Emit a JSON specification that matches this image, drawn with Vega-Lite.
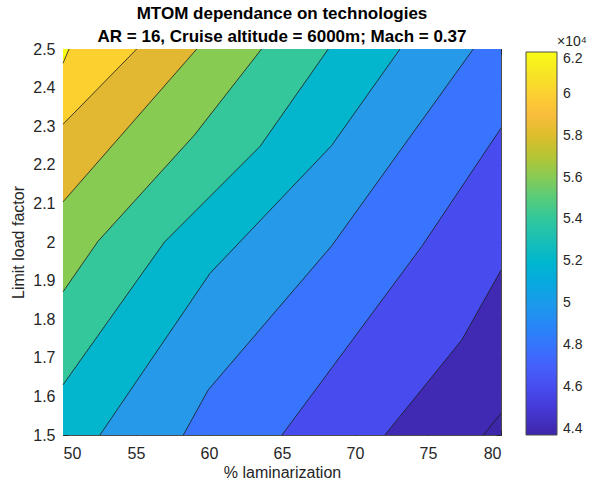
{
  "$schema": "https://vega.github.io/schema/vega-lite/v6.json",
  "width": 438,
  "height": 386,
  "autosize": {"type": "none"},
  "padding": {"left": 63, "top": 49, "right": 99, "bottom": 50},
  "background": "white",
  "config": {
    "font": "Liberation Sans",
    "view": {"stroke": "#4d4d4d", "strokeWidth": 1},
    "axis": {
      "grid": false,
      "domain": false,
      "tickColor": "#262626",
      "tickSize": -5,
      "labelColor": "#262626",
      "labelFontSize": 16,
      "titleFontSize": 16,
      "titleFontWeight": "normal",
      "titleColor": "#262626",
      "labelFont": "Liberation Sans",
      "titleFont": "Liberation Sans"
    }
  },
  "title": {
    "text": ["MTOM dependance on technologies", "AR = 16, Cruise altitude = 6000m; Mach = 0.37"],
    "frame": "group",
    "fontSize": 17,
    "fontWeight": "bold",
    "color": "#000000",
    "anchor": "middle",
    "offset": -11,
    "lineHeight": 23,
    "font": "Liberation Sans"
  },
  "datasets": {
    "bands": [
      {"level": "base", "x": 50, "y": 1.5}, {"level": "base", "x": 80, "y": 1.5},
      {"level": "4.4", "x": 50, "y": 1.5}, {"level": "4.4", "x": 78.79, "y": 1.5}, {"level": "4.4", "x": 80, "y": 1.556},
      {"level": "4.6", "x": 50, "y": 1.5}, {"level": "4.6", "x": 72.05, "y": 1.5}, {"level": "4.6", "x": 77.31, "y": 1.746}, {"level": "4.6", "x": 80, "y": 1.927},
      {"level": "4.8", "x": 50, "y": 1.5}, {"level": "4.8", "x": 65, "y": 1.5}, {"level": "4.8", "x": 74.6, "y": 1.99}, {"level": "4.8", "x": 80, "y": 2.295},
      {"level": "5.0", "x": 50, "y": 1.5}, {"level": "5.0", "x": 58.24, "y": 1.5}, {"level": "5.0", "x": 59.95, "y": 1.617}, {"level": "5.0", "x": 68.4, "y": 1.99}, {"level": "5.0", "x": 78.1, "y": 2.5},
      {"level": "5.2", "x": 50, "y": 1.5}, {"level": "5.2", "x": 52.53, "y": 1.5}, {"level": "5.2", "x": 60.07, "y": 1.919}, {"level": "5.2", "x": 68.4, "y": 2.25}, {"level": "5.2", "x": 73.08, "y": 2.5},
      {"level": "5.4", "x": 50, "y": 1.63}, {"level": "5.4", "x": 56.95, "y": 2.0}, {"level": "5.4", "x": 63.5, "y": 2.248}, {"level": "5.4", "x": 68.17, "y": 2.5},
      {"level": "5.6", "x": 50, "y": 1.871}, {"level": "5.6", "x": 52.4, "y": 2.002}, {"level": "5.6", "x": 59.0, "y": 2.277}, {"level": "5.6", "x": 63.6, "y": 2.5},
      {"level": "5.8", "x": 50, "y": 2.104}, {"level": "5.8", "x": 59.16, "y": 2.5},
      {"level": "6.0", "x": 50, "y": 2.305}, {"level": "6.0", "x": 55.05, "y": 2.5},
      {"level": "6.2", "x": 50, "y": 2.463}, {"level": "6.2", "x": 50.41, "y": 2.5}
    ],
    "lines": [
      {"level": "4.4", "x": 78.79, "y": 1.5}, {"level": "4.4", "x": 80, "y": 1.556},
      {"level": "4.6", "x": 72.05, "y": 1.5}, {"level": "4.6", "x": 77.31, "y": 1.746}, {"level": "4.6", "x": 80, "y": 1.927},
      {"level": "4.8", "x": 65, "y": 1.5}, {"level": "4.8", "x": 74.6, "y": 1.99}, {"level": "4.8", "x": 80, "y": 2.295},
      {"level": "5.0", "x": 58.24, "y": 1.5}, {"level": "5.0", "x": 59.95, "y": 1.617}, {"level": "5.0", "x": 68.4, "y": 1.99}, {"level": "5.0", "x": 78.1, "y": 2.5},
      {"level": "5.2", "x": 52.53, "y": 1.5}, {"level": "5.2", "x": 60.07, "y": 1.919}, {"level": "5.2", "x": 68.4, "y": 2.25}, {"level": "5.2", "x": 73.08, "y": 2.5},
      {"level": "5.4", "x": 50, "y": 1.63}, {"level": "5.4", "x": 56.95, "y": 2.0}, {"level": "5.4", "x": 63.5, "y": 2.248}, {"level": "5.4", "x": 68.17, "y": 2.5},
      {"level": "5.6", "x": 50, "y": 1.871}, {"level": "5.6", "x": 52.4, "y": 2.002}, {"level": "5.6", "x": 59.0, "y": 2.277}, {"level": "5.6", "x": 63.6, "y": 2.5},
      {"level": "5.8", "x": 50, "y": 2.104}, {"level": "5.8", "x": 59.16, "y": 2.5},
      {"level": "6.0", "x": 50, "y": 2.305}, {"level": "6.0", "x": 55.05, "y": 2.5},
      {"level": "6.2", "x": 50, "y": 2.463}, {"level": "6.2", "x": 50.41, "y": 2.5}
    ],
    "cbar": [{"v": 43700}, {"v": 62000}]
  },
  "layer": [
    {
      "data": {"name": "bands"},
      "mark": {"type": "area", "interpolate": "linear", "opacity": 1},
      "encoding": {
        "x": {"field": "x", "type": "quantitative", "scale": {"domain": [50, 80], "nice": false, "zero": false},
              "axis": {"values": [50, 55, 60, 65, 70, 75, 80], "title": "% laminarization", "labelPadding": 15, "titlePadding": 3}},
        "y": {"field": "y", "type": "quantitative", "stack": null, "scale": {"domain": [1.5, 2.5], "nice": false, "zero": false},
              "axis": {"values": [1.5, 1.6, 1.7, 1.8, 1.9, 2.0, 2.1, 2.2, 2.3, 2.4, 2.5], "format": "~g", "title": "Limit load factor", "labelPadding": 13, "titlePadding": 6}},
        "y2": {"datum": 2.5},
        "fill": {"field": "level", "type": "nominal",
                 "scale": {"domain": ["base", "4.4", "4.6", "4.8", "5.0", "5.2", "5.4", "5.6", "5.8", "6.0", "6.2"],
                           "range": ["#3e26a8", "#402ab4", "#484cef", "#3974ff", "#2699e9", "#04b6cd", "#34c79b", "#88cb52", "#e2b832", "#fcd12f", "#f9fb15"]},
                 "legend": null}
      }
    },
    {
      "data": {"name": "lines"},
      "mark": {"type": "line", "color": "#1a1a1a", "strokeWidth": 0.8},
      "encoding": {
        "x": {"field": "x", "type": "quantitative",
              "axis": {"orient": "top", "values": [50, 55, 60, 65, 70, 75, 80], "labels": false, "title": null}},
        "y": {"field": "y", "type": "quantitative",
              "axis": {"orient": "right", "values": [1.5, 1.6, 1.7, 1.8, 1.9, 2.0, 2.1, 2.2, 2.3, 2.4, 2.5], "labels": false, "title": null}},
        "detail": {"field": "level", "type": "nominal"}
      }
    },
    {
      "data": {"name": "cbar"},
      "mark": {"type": "point", "opacity": 0},
      "encoding": {
        "color": {"field": "v", "type": "quantitative",
          "scale": {
            "domain": [43700, 44862, 46024, 47186, 48348, 49510, 50671, 51833, 52995, 54157, 55319, 56481, 57643, 58805, 59967, 61129, 62000],
            "range": ["#3e26a8", "#4537d5", "#484df0", "#4563fd", "#327cfc", "#2b91ef", "#20a5e3", "#08b5d0", "#19bfb6", "#37c897", "#64cd6f", "#9dc943", "#d1bf27", "#f8ba3d", "#fccf30", "#f5e924", "#f9fb15"]
          },
          "legend": {
            "orient": "none",
            "legendX": 463,
            "legendY": -14,
            "direction": "vertical",
            "gradientLength": 383,
            "gradientThickness": 31,
            "gradientStrokeColor": "#4d4d4d",
            "gradientStrokeWidth": 1,
            "values": [44000, 46000, 48000, 50000, 52000, 54000, 56000, 58000, 60000, 62000],
            "labelExpr": "format(datum.value / 10000, '~g')",
            "labelFontSize": 14,
            "labelColor": "#262626",
            "labelOffset": 6,
            "labelBaseline": "middle",
            "labelFont": "Liberation Sans",
            "title": "×10⁴",
            "titleFontSize": 14,
            "titleFontWeight": "normal",
            "titleColor": "#262626",
            "titleFont": "Liberation Sans",
            "titlePadding": 3,
            "encode": {"title": {"update": {"dx": {"value": 31}}}}
          }
        }
      }
    }
  ],
  "resolve": {"axis": {"x": "independent", "y": "independent"}}
}
